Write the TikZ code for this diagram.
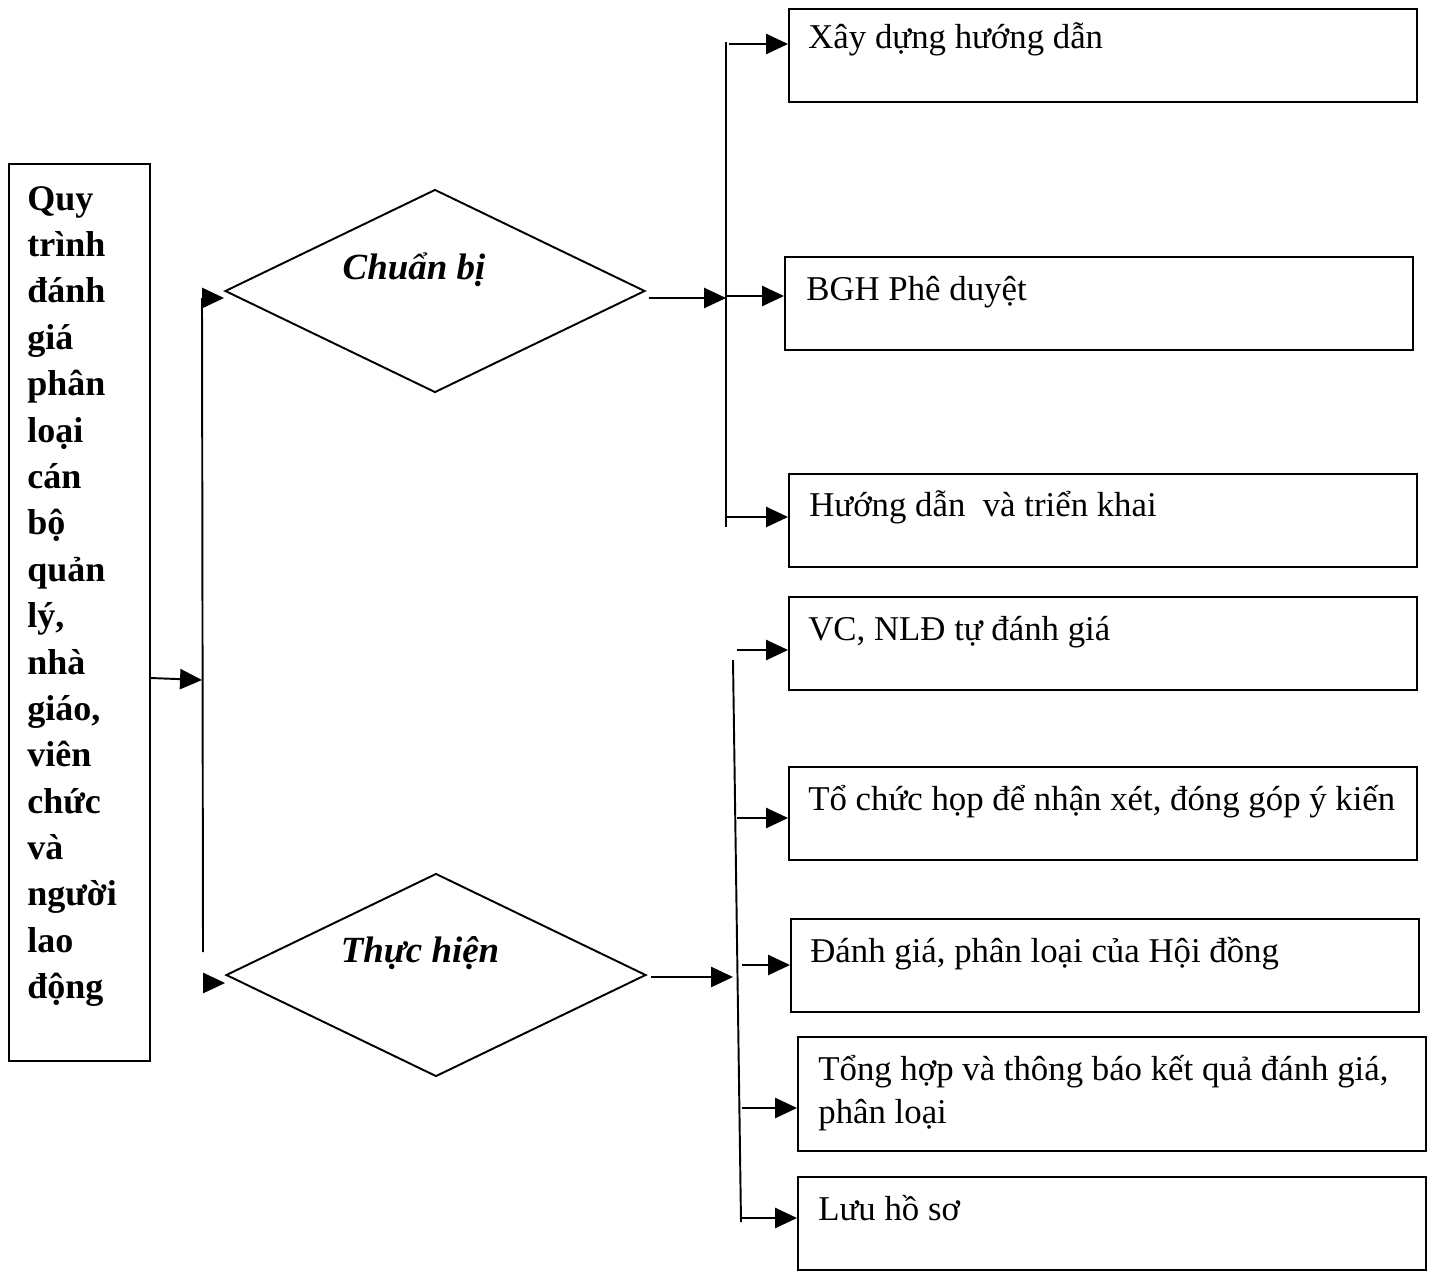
\documentclass[tikz,border=0pt]{standalone}
\usepackage{fontspec}
\setmainfont{Liberation Serif}
\usetikzlibrary{arrows.meta, positioning, calc, shapes.geometric}

\begin{document}
\begin{tikzpicture}[
  x=0.02cm, y=-0.02cm,
  box/.style={draw, line width=1.1pt, minimum width=12.56cm,
              minimum height=1.86cm, inner sep=0pt, anchor=north west},
  dia/.style={draw, diamond, line width=1.1pt, minimum width=8.4cm,
              minimum height=4.06cm, inner sep=0pt},
  txt/.style={font=\fontsize{19.8}{24}\selectfont, inner sep=0pt, anchor=base west},
  ttl/.style={font=\fontsize{20.5}{26.4}\selectfont\bfseries, inner sep=0pt,
              align=left, anchor=north west},
  dtxt/.style={font=\fontsize{21}{24}\selectfont\bfseries\itshape, inner sep=0pt},
  bus/.style={line width=1.1pt},
  arr/.style={-{Triangle[length=12.5pt, width=11.5pt]}, line width=1.1pt}
]
  \useasboundingbox (0,0) rectangle (1429,1271);

  % left title box
  \node[draw, line width=1.1pt, minimum width=2.82cm, minimum height=17.94cm,
        inner sep=0pt, anchor=north west] (q) at (8,163) {};
  \node[ttl] (qt) at (27,186) {Quy\\trình\\đánh\\giá\\phân\\loại\\cán\\bộ\\quản\\lý,\\nhà\\giáo,\\viên\\chức\\và\\người\\lao\\động};

  % diamonds
  \node[dia] (d1) at (435,291) {};
  \node[dtxt] (d1t) at (414,270) {Chuẩn bị};
  \node[dia] (d2) at (436,975) {};
  \node[dtxt] (d2t) at (420,953) {Thực hiện};

  % boxes
  \node[box] (b1) at (788,8) {};
  \node[box] (b2) at (784,256) {};
  \node[box] (b3) at (788,473) {};
  \node[box] (b4) at (788,596) {};
  \node[box] (b5) at (788,766) {};
  \node[box] (b6) at (790,918) {};
  \node[box, minimum height=2.28cm] (b7) at (797,1036) {};
  \node[box] (b8) at (797,1176) {};

  \node[txt] (t1) at (808,48) {Xây dựng hướng dẫn};
  \node[txt] (t2) at (806,300) {BGH Phê duyệt};
  \node[txt] (t3) at (809,516) {Hướng dẫn \ và triển khai};
  \node[txt] (t4) at (808,640) {VC, NLĐ tự đánh giá};
  \node[txt] (t5) at (808,810) {Tổ chức họp để nhận xét, đóng góp ý kiến};
  \node[txt] (t6) at (810,962) {Đánh giá, phân loại của Hội đồng};
  \node[txt] (t7) at (818,1080) {Tổng hợp và thông báo kết quả đánh giá,};
  \node[txt] (t7b) at (818,1123) {phân loại};
  \node[txt] (t8) at (818,1220) {Lưu hồ sơ};

  % left connectors
  \coordinate (lm) at (202,680);
  \coordinate (lt) at (202,298);
  \coordinate (lb) at (203,952);
  \coordinate (lc) at (205,983);
  \draw[arr] (q.east |- 0,678) -- (lm);
  \draw[bus] (lt) -- (lb);
  \draw[arr] (lt) -- (lt -| d1.west);
  \draw[arr] (lc) -- (lc -| d2.west);

  % upper bus
  \coordinate (ut) at (726,42);
  \coordinate (ub) at (726,527);
  \draw[bus] (ut) -- (ub);
  \coordinate (e1) at ($(d1.east)+(3,7)$);
  \draw[arr] (e1) -- (e1 -| ut);
  \coordinate (a1) at (729,44);
  \coordinate (a2) at (727,296);
  \coordinate (a3) at (727,517);
  \draw[arr] (a1) -- (a1 -| b1.west);
  \draw[arr] (a2) -- (a2 -| b2.west);
  \draw[arr] (a3) -- (a3 -| b3.west);

  % lower bus
  \coordinate (vt) at (733,660);
  \coordinate (vb) at (741,1222);
  \draw[bus] (vt) -- (vb);
  \coordinate (e2) at ($(d2.east)+(4,2)$);
  \draw[arr] (e2) -- (733,977);
  \coordinate (a4) at (737,650);
  \coordinate (a5) at (737,818);
  \coordinate (a6) at (742,965);
  \coordinate (a7) at (742,1108);
  \coordinate (a8) at (742,1218);
  \draw[arr] (a4) -- (a4 -| b4.west);
  \draw[arr] (a5) -- (a5 -| b5.west);
  \draw[arr] (a6) -- (a6 -| b6.west);
  \draw[arr] (a7) -- (a7 -| b7.west);
  \draw[arr] (a8) -- (a8 -| b8.west);
\end{tikzpicture}
\end{document}
